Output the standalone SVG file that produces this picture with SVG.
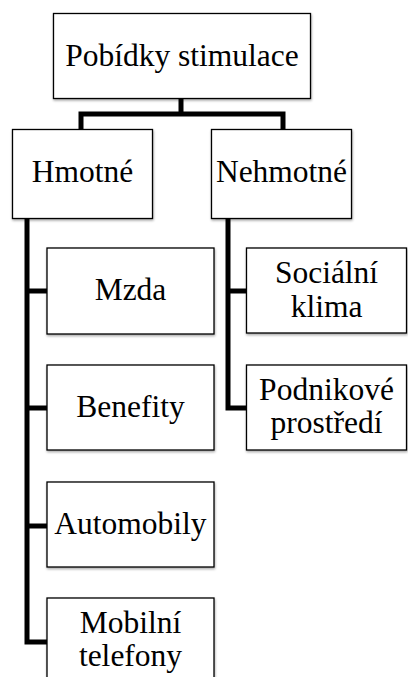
<svg xmlns="http://www.w3.org/2000/svg" width="408" height="677" viewBox="0 0 408 677">
<defs>
<filter id="sh" x="-10%" y="-10%" width="120%" height="130%">
<feDropShadow dx="0.5" dy="1.5" stdDeviation="1" flood-color="#000" flood-opacity="0.35"/>
</filter>
<style>
.box{fill:#fff;stroke:#000;stroke-width:1.3;filter:url(#sh)}
.t{font-family:'Liberation Serif',serif;font-size:31.5px;fill:#000;text-anchor:middle}
.c{fill:none;stroke:#000;stroke-width:5;stroke-linejoin:miter;stroke-linecap:butt}
</style>
</defs>
<rect width="408" height="677" fill="#fff"/>
<g id="connectors">
<path class="c" d="M181,98 V114"/>
<path class="c" d="M81,129.5 V114 H283 V129.5"/>
<path class="c" d="M27,218 V642 H47"/>
<path class="c" d="M27,291 H47"/>
<path class="c" d="M27,408 H47"/>
<path class="c" d="M27,526 H47"/>
<path class="c" d="M228,218 V408 H246"/>
<path class="c" d="M228,291 H246"/>
</g>
<g id="n-root">
<rect class="box" x="53.5" y="13.5" width="257" height="85"/>
<text class="t" x="182" y="66" font-family="Liberation Serif, serif">Pobídky stimulace</text>
</g>
<g id="n-hmotne">
<rect class="box" x="12.5" y="129.5" width="140" height="89"/>
<text class="t" x="82.5" y="182">Hmotné</text>
</g>
<g id="n-nehmotne">
<rect class="box" x="211.5" y="129.5" width="140" height="89"/>
<text class="t" x="281.5" y="182">Nehmotné</text>
</g>
<g id="n-mzda">
<rect class="box" x="47" y="248" width="167" height="86"/>
<text class="t" x="130.5" y="300">Mzda</text>
</g>
<g id="n-benefity">
<rect class="box" x="47" y="365" width="167" height="85"/>
<text class="t" x="130.5" y="417">Benefity</text>
</g>
<g id="n-automobily">
<rect class="box" x="47" y="482" width="167" height="85"/>
<text class="t" x="130.5" y="534">Automobily</text>
</g>
<g id="n-mobilni">
<rect class="box" x="47" y="598" width="167" height="86"/>
<text class="t" x="130.5" y="633">Mobilní</text>
<text class="t" x="130.5" y="666">telefony</text>
</g>
<g id="n-socialni">
<rect class="box" x="246.5" y="248" width="160" height="85"/>
<text class="t" x="326.5" y="283">Sociální</text>
<text class="t" x="326.5" y="317">klima</text>
</g>
<g id="n-podnikove">
<rect class="box" x="246.5" y="365" width="160" height="85"/>
<text class="t" x="326.5" y="400">Podnikové</text>
<text class="t" x="326.5" y="433">prostředí</text>
</g>
</svg>
